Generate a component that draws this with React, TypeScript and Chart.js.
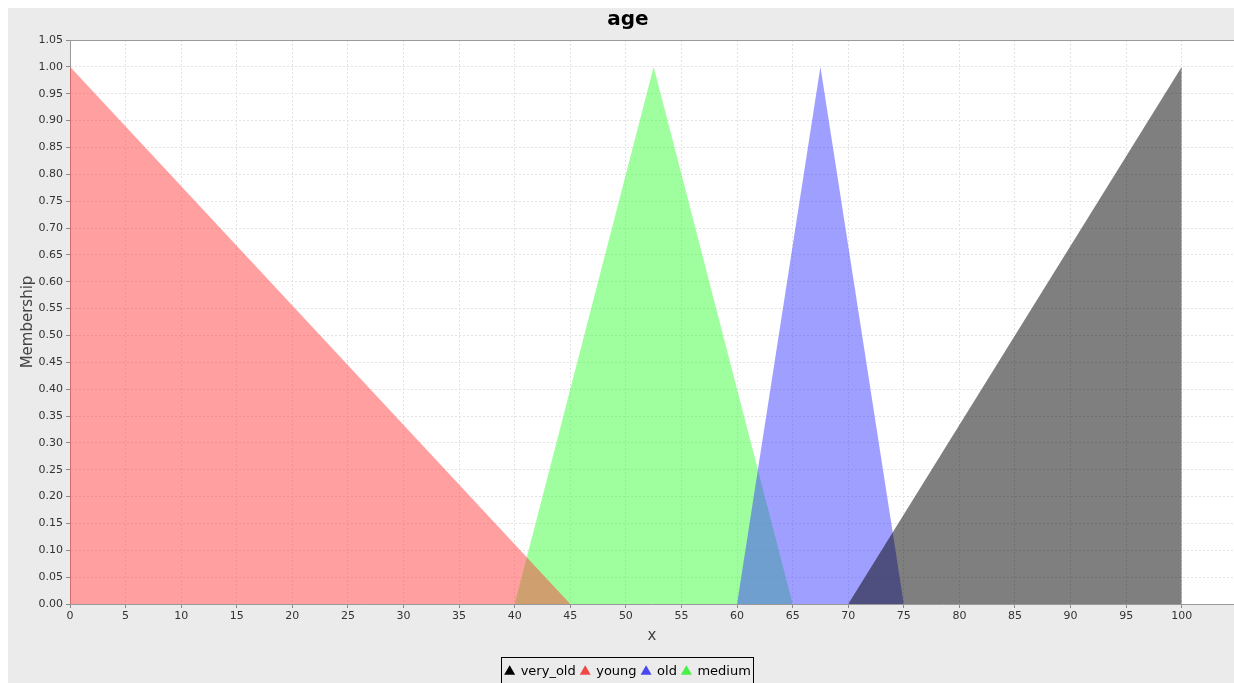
import React, { useEffect, useRef } from "react";
import { Chart, registerables } from "chart.js";

Chart.register(...registerables);

const chartTitle = "age";
const xTitle = "x";
const yTitle = "Membership";

const seriesNames = ["very_old", "young", "old", "medium"];
const veryOldX = [70, 100, 100];
const veryOldY = [0, 1, 0];
const youngX = [0, 45];
const youngY = [1, 0];
const oldX = [60, 67.5, 75];
const oldY = [0, 1, 0];
const mediumX = [40, 52.5, 65];
const mediumY = [0, 1, 0];

const fillColors = ["rgba(0,0,0,0.5)", "rgba(255,64,64,0.5)", "rgba(64,64,255,0.5)", "rgba(64,255,64,0.5)"];
const legendColors = ["#000000", "#f04848", "#4848f0", "#48f048"];

const xTicks = [0, 5, 10, 15, 20, 25, 30, 35, 40, 45, 50, 55, 60, 65, 70, 75, 80, 85, 90, 95, 100];
const yTicks = [0, 0.05, 0.1, 0.15, 0.2, 0.25, 0.3, 0.35, 0.4, 0.45, 0.5, 0.55, 0.6, 0.65, 0.7, 0.75, 0.8, 0.85, 0.9, 0.95, 1.0, 1.05];
const xMax = 104.7;

const FONT = "'DejaVu Sans', sans-serif";
const W = 1226;
const H = 680;

function pts(xs: number[], ys: number[]) {
  return xs.map((x, i) => ({ x, y: ys[i] }));
}

const bgPlugin = {
  id: "bgPlugin",
  beforeDraw(chart: any) {
    const { ctx, chartArea, width, height } = chart;
    ctx.save();
    ctx.fillStyle = "#ebebeb";
    ctx.fillRect(0, 0, width, height);
    ctx.fillStyle = "#ffffff";
    ctx.fillRect(chartArea.left, chartArea.top, chartArea.right - chartArea.left, chartArea.bottom - chartArea.top);
    ctx.restore();
  },
  afterDraw(chart: any) {
    const { ctx, chartArea } = chart;
    ctx.save();
    ctx.strokeStyle = "#9a9a9a";
    ctx.lineWidth = 1;
    ctx.beginPath();
    ctx.moveTo(chartArea.left, chartArea.top + 0.5);
    ctx.lineTo(chartArea.right, chartArea.top + 0.5);
    ctx.stroke();
    const lg = chart.legend;
    if (lg && lg.legendHitBoxes && lg.legendHitBoxes.length) {
      const boxes = lg.legendHitBoxes;
      let l = Infinity, r = -Infinity, t = Infinity, b = -Infinity;
      for (const hb of boxes) {
        l = Math.min(l, hb.left);
        r = Math.max(r, hb.left + hb.width);
        t = Math.min(t, hb.top);
        b = Math.max(b, hb.top + hb.height);
      }
      ctx.strokeStyle = "#000000";
      ctx.lineWidth = 1;
      ctx.strokeRect(Math.round(l - 4) + 0.5, Math.round(t - 8) + 0.5, Math.round(r - l + 6), Math.round(b - t + 16));
    }
    ctx.restore();
  },
};

export default function App() {
  const ref = useRef<HTMLCanvasElement | null>(null);
  useEffect(() => {
    document.documentElement.style.overflow = "hidden";
    document.body.style.margin = "8px 0 0 8px";
    const canvas = ref.current;
    if (!canvas) return;
    const xsList = [veryOldX, youngX, oldX, mediumX];
    const ysList = [veryOldY, youngY, oldY, mediumY];
    const chart = new Chart(canvas, {
      type: "line",
      data: {
        datasets: seriesNames.map((name, i) => ({
          label: name,
          data: pts(xsList[i], ysList[i]),
          backgroundColor: fillColors[i],
          borderColor: fillColors[i],
          borderWidth: 0,
          pointRadius: 0,
          fill: "origin",
          tension: 0,
        })),
      },
      options: {
        animation: false,
        responsive: false,
        maintainAspectRatio: false,
        layout: { padding: { top: 0, right: 0, bottom: 0, left: 14 } },
        plugins: {
          title: {
            display: true,
            text: chartTitle,
            color: "#000000",
            font: { family: FONT, size: 20, weight: "bold" },
            padding: { top: 0, bottom: 8 },
          },
          legend: {
            display: true,
            position: "bottom",
            labels: {
              usePointStyle: true,
              pointStyle: "triangle",
              boxWidth: 9,
              boxHeight: 9,
              padding: 5,
              color: "#000000",
              font: { family: FONT, size: 13 },
              generateLabels: (c: any) =>
                c.data.datasets.map((ds: any, i: number) => ({
                  text: ds.label,
                  fillStyle: legendColors[i],
                  strokeStyle: legendColors[i],
                  lineWidth: 0,
                  pointStyle: "triangle",
                  hidden: false,
                  datasetIndex: i,
                  fontColor: "#000000",
                })),
            },
          },
          tooltip: { enabled: false },
        },
        scales: {
          x: {
            type: "linear",
            min: 0,
            max: xMax,
            afterBuildTicks: (scale: any) => {
              scale.ticks = xTicks.map((v) => ({ value: v }));
            },
            ticks: {
              color: "#333333",
              font: { family: FONT, size: 11 },
              padding: 2,
              maxRotation: 0,
              autoSkip: false,
              callback: (v: any) => String(v),
            },
            grid: {
              color: "#e2e2e2",
              tickColor: "#8a8a8a",
              tickLength: 4,
              lineWidth: 1,
            },
            border: { display: true, color: "#9a9a9a", width: 1, dash: [2, 2] },
            title: {
              display: true,
              text: xTitle,
              color: "#444444",
              font: { family: FONT, size: 15 },
              padding: { top: 2, bottom: 14.8 },
            },
          },
          y: {
            type: "linear",
            min: 0,
            max: 1.05,
            afterBuildTicks: (scale: any) => {
              scale.ticks = yTicks.map((v) => ({ value: v }));
            },
            afterFit: (scale: any) => {
              scale.width = 48;
            },
            ticks: {
              color: "#333333",
              font: { family: FONT, size: 11 },
              padding: 3,
              autoSkip: false,
              callback: (v: any) => Number(v).toFixed(2),
            },
            grid: {
              color: "#e2e2e2",
              tickColor: "#8a8a8a",
              tickLength: 4,
              lineWidth: 1,
            },
            border: { display: true, color: "#9a9a9a", width: 1, dash: [2, 2] },
            title: {
              display: true,
              text: yTitle,
              color: "#444444",
              font: { family: FONT, size: 15 },
              padding: { top: -3, bottom: 0 },
            },
          },
        },
      },
      plugins: [bgPlugin],
    });
    return () => chart.destroy();
  }, []);
  return (
    <div style={{ width: W, height: H }}>
      <canvas ref={ref} width={W} height={H} style={{ display: "block" }} />
    </div>
  );
}
